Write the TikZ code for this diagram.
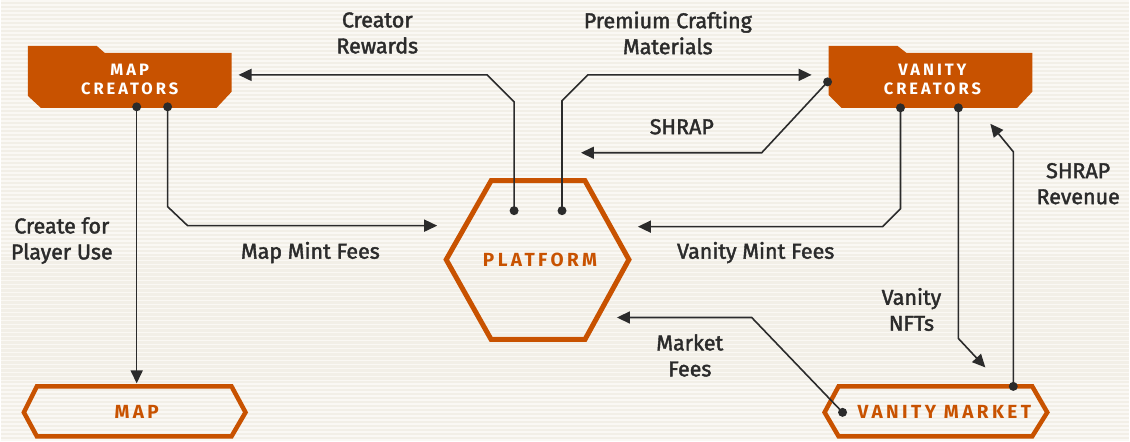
\documentclass[tikz,border=0pt]{standalone}
\usepackage{fontspec}
\setmainfont{Fira Sans}
\newfontfamily\lblfont[FakeBold=1.8]{Fira Sans}
\newfontfamily\titlefont[LetterSpace=18]{Fira Sans}
\usetikzlibrary{arrows.meta,calc}
\definecolor{rust}{HTML}{C85200}
\definecolor{ink}{HTML}{2B2B2B}
\definecolor{paper}{HTML}{F2EFE7}
\definecolor{paperline}{HTML}{FAF8F4}
\tikzset{
  flow/.style={draw=ink, line width=1.6pt, -{Triangle[length=13pt,width=12pt]}},
  lbl/.style={text=ink, font=\lblfont\fontsize{21.5}{26}\selectfont, align=center},
  title/.style={text=white, font=\titlefont\bfseries\fontsize{16.5}{19}\selectfont, align=center},
  otitle/.style={text=rust, font=\titlefont\bfseries\fontsize{19}{20}\selectfont},
  frame/.style={draw=rust, line width=4.5pt, line join=miter}
}
\begin{document}
\begin{tikzpicture}[x=1pt,y=-1pt]
% paper with faint stripes
\fill[paper] (0,0) rectangle (1130,442);
\foreach \y in {1,5,...,441}
  \draw[paperline, line width=1.8pt] (0,\y) -- (1130,\y);
\useasboundingbox (0,0) rectangle (1130,442);

% boxes
\fill[rust] (27,46) -- (96,46) -- (104,53) -- (231,53) -- (231,92) -- (216,108) -- (40,108) -- (27,96) -- cycle;
\fill[rust] (829,46) -- (898,46) -- (907,53) -- (1033,53) -- (1033,92) -- (1018,108) -- (842,108) -- (829,95) -- cycle;
\draw[frame, line width=5pt] (491,181) -- (585,181) -- (629,260) -- (585,340) -- (491,340) -- (446,260) -- cycle;
\draw[frame] (36,387) -- (231,387) -- (245,413) -- (231,437) -- (36,437) -- (23,413) -- cycle;
\draw[frame] (839,387) -- (1033,387) -- (1048,413) -- (1033,437) -- (839,437) -- (825,413) -- cycle;

\node[title] (mapcreators) at (129,80) {MAP\\CREATORS};
\node[title] (vanitycreators) at (933,80) {VANITY\\CREATORS};
\node[otitle] (platform) at (540,260) {PLATFORM};
\node[otitle] (map) at (136,413) {MAP};
\node[otitle] (vanitymarket) at (945,413) {VANITY MARKET};

% ports
\coordinate (mc1) at (136,107);
\coordinate (mc2) at (167,107);
\coordinate (vc0) at (828,82);
\coordinate (vc1) at (901,108);
\coordinate (vc2) at (959,108);
\coordinate (pf1) at (514,211);
\coordinate (pf2) at (562,211);
\coordinate (vm1) at (843,413);
\coordinate (vm2) at (1014,387);

% arrow ends
\coordinate (rewardsend) at (238,75);
\coordinate (craftend) at (812,75);
\coordinate (shrapend) at (581,153);
\coordinate (mapfeeend) at (437,226);
\coordinate (vanfeeend) at (638,227);
\coordinate (mapend) at (136,384);
\coordinate (nftend) at (986,368);
\coordinate (revend) at (991,124);
\coordinate (marketend) at (617,318);

% connectors
\draw[flow] (pf1) -- (514,102) -- (487,75) -- (rewardsend);
\draw[flow] (pf2) -- (562,101) -- (588,75) -- (craftend);
\draw[flow] (vc0) -- (762,153) -- (shrapend);
\draw[flow] (mc2) -- (167,207) -- (187,226) -- (mapfeeend);
\draw[flow] (vc1) -- (901,209) -- (883,227) -- (vanfeeend);
\draw[flow] (mc1) -- (mapend);
\draw[flow] (vc2) -- (959,339) -- (nftend);
\draw[flow] (vm2) -- (1014,152) -- (revend);
\draw[flow] (vm1) -- (752,318) -- (marketend);

\foreach \p in {mc1,mc2,vc0,vc1,vc2,pf1,pf2,vm1,vm2}
  \fill[ink] (\p) circle (4.5pt);

% labels
\node[lbl] (rewardslbl) at (377,33) {Creator\\Rewards};
\node[lbl] (craftlbl) at (668,33) {Premium Crafting\\Materials};
\node[lbl] (shraplbl) at (682,127) {SHRAP};
\node[lbl] (mapfeelbl) at (310,253) {Map Mint Fees};
\node[lbl] (vanfeelbl) at (756,253) {Vanity Mint Fees};
\node[lbl] (uselbl) at (61,241) {Create for\\Player Use};
\node[lbl] (nftlbl) at (912,310) {Vanity\\NFTs};
\node[lbl] (revlbl) at (1079,184) {SHRAP\\Revenue};
\node[lbl] (marketlbl) at (690,356) {Market\\Fees};
\end{tikzpicture}
\end{document}
